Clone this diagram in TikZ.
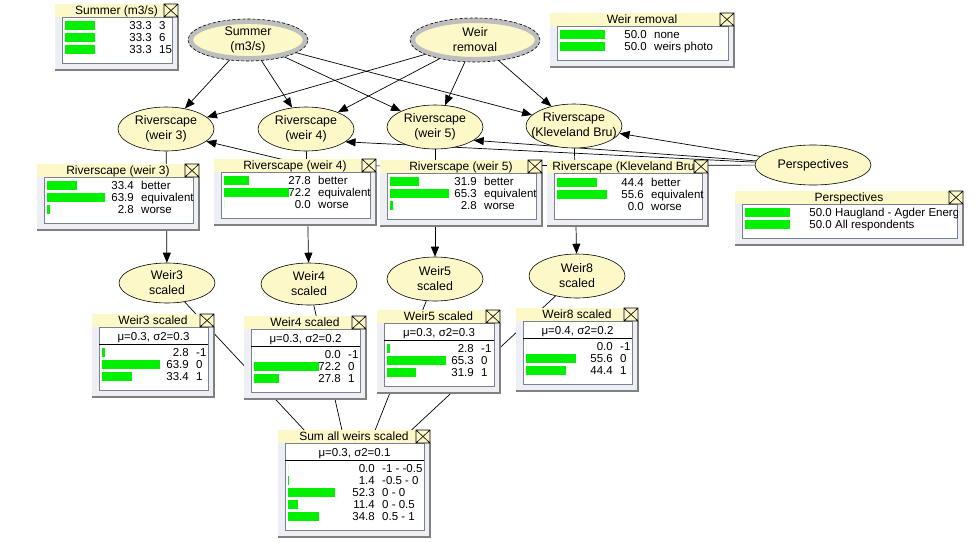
\documentclass[tikz,border=0pt]{standalone}
\usepackage{fontspec}
\setmainfont{Liberation Sans}
\usetikzlibrary{shapes.geometric,arrows.meta,backgrounds}

\definecolor{nodefill}{RGB}{252,248,200}
\definecolor{ringgray}{RGB}{190,190,190}
\definecolor{barfill}{RGB}{0,240,0}
\definecolor{framefill}{RGB}{238,239,244}
\definecolor{frameshade}{RGB}{128,128,128}
\definecolor{panelline}{RGB}{120,130,145}

\tikzset{
  netnode/.style={ellipse, draw, fill=nodefill, line width=0.6pt, inner xsep=-9pt,
    inner ysep=0pt, align=center, minimum width=96, minimum height=44,
    font=\fontsize{12.4}{15}\selectfont},
  topnode/.style={netnode, draw=ringgray, line width=5pt},
  ringdash/.style={line width=0.6pt, dash pattern=on 3pt off 2pt},
  link/.style={line width=0.7pt, -{Triangle[length=10pt,width=8pt]}},
  tie/.style={line width=0.7pt},
  beliefbar/.style={fill=barfill},
  panel/.style={draw=panelline, fill=white, line width=0.8pt},
  closebox/.style={draw, fill=nodefill, line width=0.6pt},
  boxtitle/.style={anchor=base, inner sep=0pt, font=\fontsize{12}{15}\selectfont},
  stats/.style={anchor=base, inner sep=0pt},
  pctval/.style={anchor=base east, inner sep=0pt},
  statelab/.style={anchor=base west, inner sep=0pt}
}

% box frame: [title options], left, top, right, panel height, name
\newcommand{\netbox}[6][]{%
  \fill[framefill] (#2,{#3+13}) rectangle (#4,{#3+20+#5});
  \draw[frameshade, line width=1.5pt] (#2,{#3+20+#5}) -- (#4,{#3+20+#5}) -- (#4,{#3+13});
  \fill[nodefill] (#2,#3) rectangle (#4,{#3+13});
  \draw[panel] ({#2+7},{#3+13}) rectangle ({#4-6},{#3+13+#5});
  \coordinate (#6-c) at ({(#2+#4)/2},{#3+(#5+20)/2});
  \node[boxtitle,#1] (#6-t) at ({(#2+#4)/2},{#3+10.5}) {\boxname};
  \draw[closebox] ({#4-14},#3) rectangle (#4,{#3+13}) -- ({#4-14},#3)
    ({#4-14},{#3+13}) -- (#4,#3);
}
% mean and variance line
\newcommand{\netstats}[5]{%
  \node[stats] (#1-m) at ({(#2+#4+1)/2},{#3+26}) {#5};
  \draw[line width=0.7pt] ({#2+7},{#3+30}) -- ({#4-6},{#3+30});
}
% belief rows: [label offset], name, left, first row, list
\newcommand{\belief}[5][104]{%
  \foreach \pv/\pl [count=\i] in {#5} {
    \fill[beliefbar] ({#3+10},{#4+12*(\i-1)-4.5}) rectangle ++({0.9*\pv},9);
    \node[pctval] (#2-v\i) at ({#3+97},{#4+12*(\i-1)+4}) {\pv};
    \node[statelab] (#2-s\i) at ({#3+#1},{#4+12*(\i-1)+4}) {\pl};
  }}

\begin{document}
\begin{tikzpicture}[x=1pt, y=-1pt, font=\fontsize{11.5}{15}\selectfont]
\useasboundingbox (0,0) rectangle (978,542);
\begin{pgfonlayer}{background}
  \fill[white] (0,0) rectangle (978,542);
\end{pgfonlayer}

% Parent nodes
\node[topnode, minimum width=115, minimum height=37] (summer) at (248,40) {Summer\\(m3/s)};
\draw[ringdash] (summer.center) ellipse [x radius=60pt, y radius=21pt];
\node[topnode, minimum width=125, minimum height=39] (weirrem) at (475,40) {Weir\\removal};
\draw[ringdash] (weirrem.center) ellipse [x radius=65pt, y radius=22pt];
\node[netnode, minimum width=116, minimum height=40] (persp) at (813,165) {Perspectives};

% Riverscape nodes
\node[netnode] (rw3) at (166,129) {Riverscape\\(weir 3)};
\node[netnode] (rw4) at (306,129) {Riverscape\\(weir 4)};
\node[netnode] (rw5) at (435,127) {Riverscape\\(weir 5)};
\node[netnode] (rkb) at (574,126) {Riverscape\\(Kleveland Bru)};

% Scaled nodes
\node[netnode, minimum height=40] (w3s) at (167,283) {Weir3\\scaled};
\node[netnode, minimum height=42] (w4s) at (309,284) {Weir4\\scaled};
\node[netnode] (w5s) at (435,279) {Weir5\\scaled};
\node[netnode] (w8s) at (577,276) {Weir8\\scaled};

% Belief boxes
\def\boxname{Summer (m3/s)}
\netbox{55}{4}{178}{46}{summerbox}
\belief{summerbox}{55}{25}{33.3/3, 33.3/6, 33.3/15}
\def\boxname{Weir removal}
\netbox{550}{13}{734}{34}{weirrembox}
\belief{weirrembox}{550}{34}{50.0/none, 50.0/weirs photo}
\def\boxname{Riverscape (weir 3)}
\netbox{37}{164}{199}{46}{rw3box}
\belief{rw3box}{37}{185.5}{33.4/better, 63.9/equivalent, 2.8/worse}
\def\boxname{Riverscape (weir 4)}
\netbox{214}{159}{376}{46}{rw4box}
\belief{rw4box}{214}{180.5}{27.8/better, 72.2/equivalent, 0.0/worse}
\def\boxname{Riverscape (weir 5)}
\netbox{380}{160}{542}{46}{rw5box}
\belief{rw5box}{380}{181.5}{31.9/better, 65.3/equivalent, 2.8/worse}
\def\boxname{Riverscape (Kleveland Bru}
\netbox[xshift=-4pt]{547}{160}{708}{46}{rkbbox}
\belief{rkbbox}{547}{182}{44.4/better, 55.6/equivalent, 0.0/worse}
\def\boxname{Perspectives}
\netbox{735}{191}{963}{34}{perspbox}
\begin{scope}
  \clip (742,204) rectangle (957,238);
  \belief[100]{perspbox}{735}{212}{50.0/Haugland - Agder Energi, 50.0/All respondents}
\end{scope}

% Scaled boxes
\def\boxname{Weir3 scaled}
\netbox{92}{314}{214}{63}{w3sbox}
\netstats{w3sbox}{92}{314}{214}{μ=0.3, σ2=0.3}
\belief{w3sbox}{92}{352}{2.8/-1, 63.9/0, 33.4/1}
\def\boxname{Weir4 scaled}
\netbox{244}{316}{366}{63}{w4sbox}
\netstats{w4sbox}{244}{316}{366}{μ=0.3, σ2=0.2}
\belief{w4sbox}{244}{354}{0.0/-1, 72.2/0, 27.8/1}
\def\boxname{Weir5 scaled}
\netbox{377}{310}{500}{63}{w5sbox}
\netstats{w5sbox}{377}{310}{500}{μ=0.3, σ2=0.3}
\belief{w5sbox}{377}{348.5}{2.8/-1, 65.3/0, 31.9/1}
\def\boxname{Weir8 scaled}
\netbox{516}{308}{638}{63}{w8sbox}
\netstats{w8sbox}{516}{308}{638}{μ=0.4, σ2=0.2}
\belief{w8sbox}{516}{346.5}{0.0/-1, 55.6/0, 44.4/1}
\def\boxname{Sum all weirs scaled}
\netbox{278}{430}{430}{87}{sumbox}
\netstats{sumbox}{278}{430}{430}{μ=0.3, σ2=0.1}
\belief{sumbox}{278}{468.5}{0.0/-1 - -0.5, 1.4/-0.5 - 0, 52.3/0 - 0, 11.4/0 - 0.5, 34.8/0.5 - 1}

% Links
\coordinate (bend3) at (310,166);
\begin{pgfonlayer}{background}
\foreach \t in {rw3,rw4,rw5,rkb} {
  \draw[link] (summer) -- (\t);
  \draw[link] (weirrem) -- (\t);
}
\draw[link] (persp) -- (rkb);
\draw[link] (persp) -- (rw5.-19);
\draw[link] (persp) -- (rw4.-18);
\draw[link] (persp) -- (bend3) -- (rw3.-17);
\draw[link] (rw3) -- (w3s);
\draw[link] (rw4) -- (w4s);
\draw[link] (rw5) -- (w5s);
\draw[link] (rkb) -- (w8s);
\foreach \t in {w3s,w4s,w5s,w8s}
  \draw[tie] (\t) -- (sumbox-c);
\end{pgfonlayer}
\end{tikzpicture}
\end{document}
